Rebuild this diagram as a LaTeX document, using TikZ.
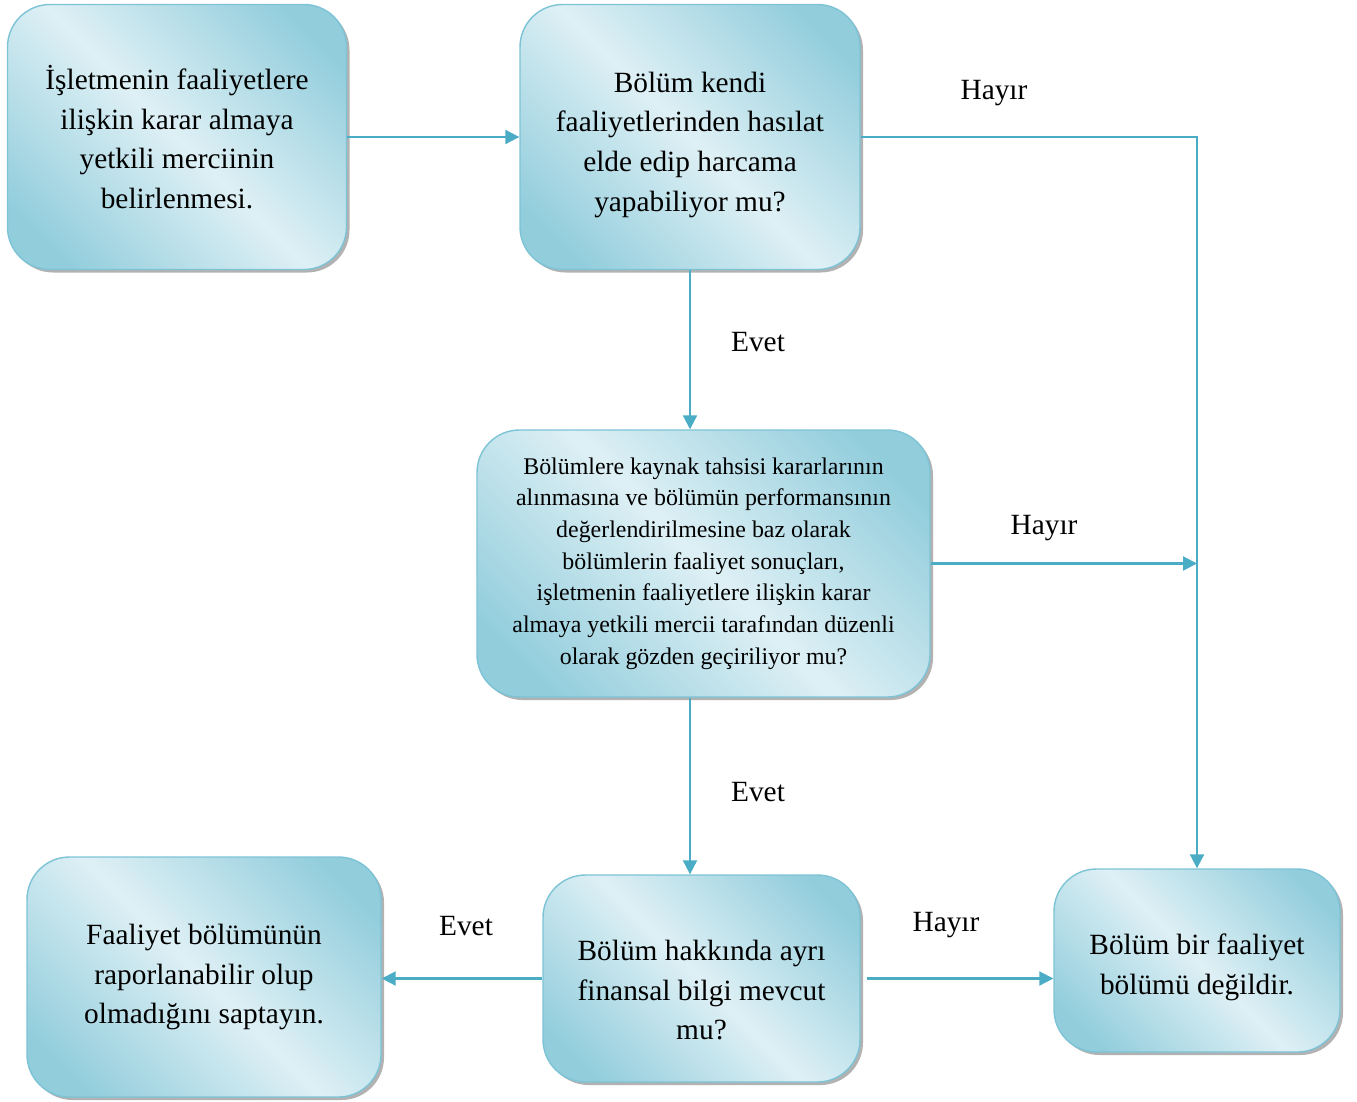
\documentclass[tikz,border=0pt]{standalone}
\usepackage{fontspec}
\setmainfont{Liberation Serif}
\usepackage{tikz}
\usetikzlibrary{arrows.meta, shapes, positioning, shadows, calc}
\definecolor{BoxDark}{RGB}{146,205,220}
\definecolor{BoxLight}{RGB}{222,240,245}
\definecolor{BoxLine}{RGB}{125,195,214}
\definecolor{ArrowBlue}{RGB}{75,172,198}
\pgfdeclarehorizontalshading{boxshade}{100bp}{color(0bp)=(BoxDark); color(22bp)=(BoxDark); color(50bp)=(BoxLight); color(78bp)=(BoxDark); color(100bp)=(BoxDark)}

\begin{document}
\begin{tikzpicture}[>={Triangle[length=0.28cm, width=0.28cm]},
    box/.style={draw=BoxLine, thick, rounded corners=0.85cm, shading=boxshade, shading angle=45,
        align=center, inner sep=0pt,
        drop shadow={shadow xshift=0.06cm, shadow yshift=-0.06cm, fill=gray!60, opacity=1}},
    big/.style={font=\fontsize{16.7}{22.6}\selectfont},
    small/.style={font=\fontsize{13.6}{18}\selectfont},
    link/.style={draw=ArrowBlue, line width=1.2pt, ->}]
\useasboundingbox (0,0) rectangle (27.14,-22.02);

% boxes
\node[box, big, minimum width=6.78cm, minimum height=5.3cm] (B0) at (3.54, -2.74)
    {İşletmenin faaliyetlere\\ilişkin karar almaya\\yetkili merciinin\\belirlenmesi.};
\node[box, big, minimum width=6.8cm, minimum height=5.3cm] (B1) at (13.8, -2.74)
    {\\[-2.3pt]Bölüm kendi\\faaliyetlerinden hasılat\\elde edip harcama\\yapabiliyor mu?};
\node[box, small, minimum width=9.06cm, minimum height=5.34cm] (B2) at (14.07, -11.27)
    {Bölümlere kaynak tahsisi kararlarının\\alınmasına ve bölümün performansının\\değerlendirilmesine baz olarak\\bölümlerin faaliyet sonuçları,\\işletmenin faaliyetlere ilişkin karar\\almaya yetkili mercii tarafından düzenli\\olarak gözden geçiriliyor mu?};
\node[box, big, minimum width=6.34cm, minimum height=4.14cm] (B3) at (14.03, -19.57)
    {\\[2.3pt]Bölüm hakkında ayrı\\finansal bilgi mevcut\\mu?};
\node[box, big, minimum width=7.08cm, minimum height=4.8cm] (R1) at (4.08, -19.54)
    {Faaliyet bölümünün\\raporlanabilir olup\\olmadığını saptayın.};
\node[box, big, minimum width=5.72cm, minimum height=3.66cm] (R2) at (23.94, -19.21)
    {\\[-3.3pt]Bölüm bir faaliyet\\bölümü değildir.};

% connectors
\draw[link] (B0.east) -- (B0.east -| B1.west);
\draw[link] (B1.south) -- (B1.south |- B2.north);
\draw[link] (B1.east) -| (R2.north);
\draw[link] (B2.east) -- (B2.east -| R2.north);
\draw[link] (B2.south -| B1.south) -- (B3.north -| B1.south);
\draw[link] (B3.west) -- (B3.west -| R1.east);
\draw[link] ([xshift=0.12cm]B3.east) -- (B3.east -| R2.west);

% labels
\node[big] (h1) at (19.88, -1.86) {Hayır};
\node[big] (e1) at (15.16, -6.84) {Evet};
\node[big] (h2) at (20.88, -10.56) {Hayır};
\node[big] (e2) at (15.16, -15.84) {Evet};
\node[big] (e3) at (9.32, -18.52) {Evet};
\node[big] (h3) at (18.92, -18.5) {Hayır};
\end{tikzpicture}
\end{document}
